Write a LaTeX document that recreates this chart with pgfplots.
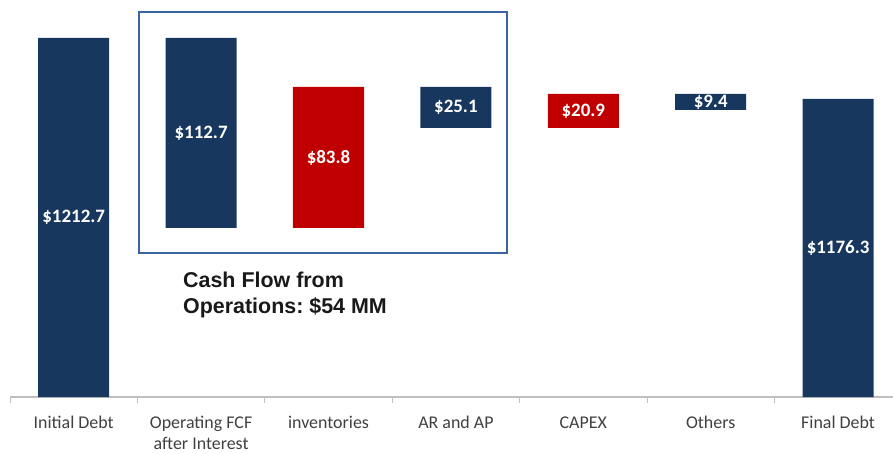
\documentclass[border=0pt]{standalone}
\usepackage{pgfplots}
\pgfplotsset{compat=1.18}
\usepackage{fontspec}
\setmainfont{Carlito}
\newfontfamily\annfont{Liberation Sans}
\definecolor{navy}{HTML}{17375E}
\definecolor{wred}{HTML}{C00000}
\definecolor{boxblue}{HTML}{3C64A0}
\definecolor{axgray}{HTML}{BFBFBF}
\definecolor{txtgray}{HTML}{404040}
\tikzset{barlabel/.style={text=white, font=\bfseries\fontsize{19}{22}\selectfont, inner sep=0pt}}
\frenchspacing
\begin{document}
\begin{tikzpicture}
\begin{axis}[
  at={(10bp,57bp)}, anchor=south west,
  scale only axis, width=883bp, height=397bp,
  xmin=-0.5, xmax=6.431, ymin=0, ymax=397,
  ybar stacked, bar width=71bp,
  axis x line=bottom, axis y line=none,
  axis line style={draw=axgray, line width=1.2bp, -},
  xtick={0,1,2,3,4,5,6},
  xticklabels={\strut Initial Debt,{\strut Operating FCF\\after Interest},\strut inventories,\strut AR and AP,\strut CAPEX,\strut Others,\strut Final Debt},
  minor xtick={-0.5,0.5,1.5,2.5,3.5,4.5,5.5},
  major tick length=0pt, minor tick length=6bp, tick align=outside,
  tick style={draw=axgray, line width=1bp},
  xticklabel style={font=\fontsize{18}{21}\selectfont, text=txtgray, align=center, inner sep=0pt, yshift=-16.5bp},
  clip=false,
]
% invisible base of the floating bars
\addplot[draw=none, fill=none] coordinates {(0,0) (1,169) (2,169) (3,269) (4,269) (5,287) (6,0)};
% navy (debt / cash in) segments
\addplot[fill=navy, draw=none] coordinates {(0,359) (1,190) (2,0) (3,41) (4,0) (5,16) (6,298)};
% red (cash out) segments
\addplot[fill=wred, draw=none] coordinates {(0,0) (1,0) (2,141) (3,0) (4,34) (5,0) (6,0)};

\coordinate (l0) at (axis cs:0,179.5);
\coordinate (l1) at (axis cs:1,264);
\coordinate (l2) at (axis cs:2,239.5);
\coordinate (l3) at (axis cs:3,289.5);
\coordinate (l4) at (axis cs:4,286);
\coordinate (l5) at (axis cs:5,295);
\coordinate (l6) at (axis cs:6,149);
\coordinate (b1) at (axis cs:0.512,385);
\coordinate (b2) at (axis cs:3.401,144);
\coordinate (ann) at (axis cs:0.858,125);
\end{axis}
\node[barlabel] at (l0) {\$1212.7};
\node[barlabel] at (l1) {\$112.7};
\node[barlabel] at (l2) {\$83.8};
\node[barlabel] at (l3) {\$25.1};
\node[barlabel] at (l4) {\$20.9};
\node[barlabel] at (l5) {\$9.4};
\node[barlabel] at (l6) {\$1176.3};
\draw[boxblue, line width=2.5bp] (b1) rectangle (b2);
\node[anchor=north west, inner sep=0pt, align=left, font=\annfont\bfseries\fontsize{21.5}{26}\selectfont, text=black!90] at (ann) {Cash Flow from\\Operations: \$54 MM};
\pgfresetboundingbox
\useasboundingbox (0,0) rectangle (893bp,454bp);
\end{tikzpicture}
\end{document}
